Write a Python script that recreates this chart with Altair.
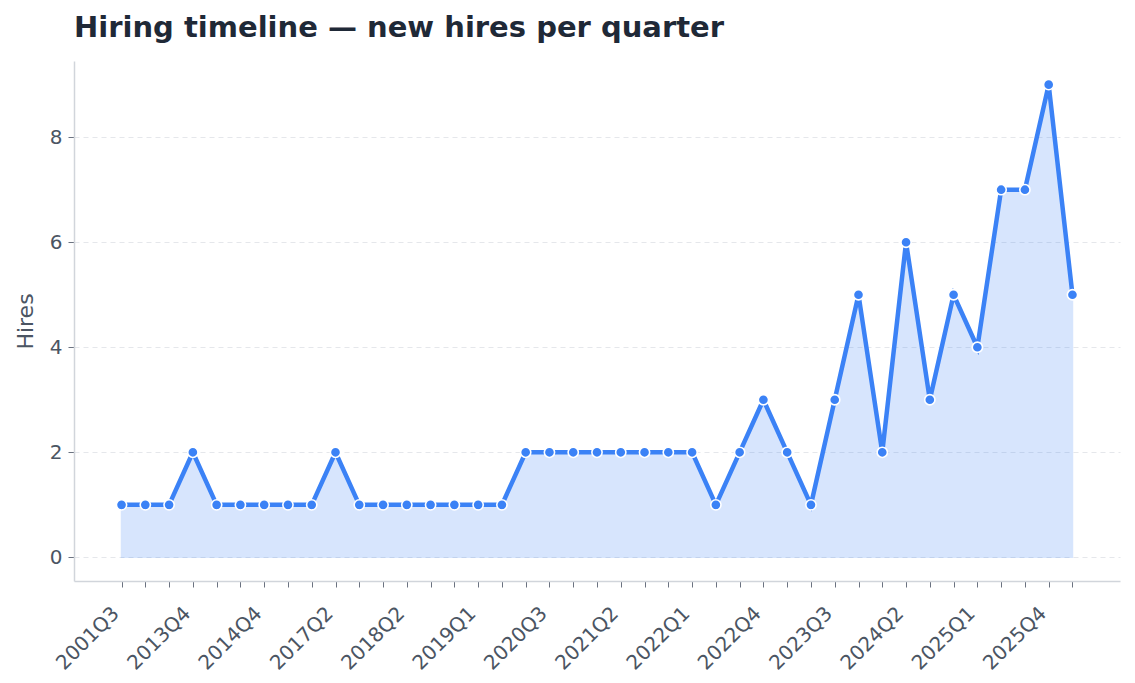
import pandas as pd
import altair as alt

quarters = [
    "2001Q3", "2008Q1", "2012Q2", "2013Q4", "2014Q1", "2014Q2", "2014Q4",
    "2015Q3", "2016Q4", "2017Q2", "2017Q3", "2017Q4", "2018Q2", "2018Q3",
    "2018Q4", "2019Q1", "2019Q3", "2020Q1", "2020Q3", "2020Q4", "2021Q1",
    "2021Q2", "2021Q3", "2021Q4", "2022Q1", "2022Q2", "2022Q3", "2022Q4",
    "2023Q1", "2023Q2", "2023Q3", "2023Q4", "2024Q1", "2024Q2", "2024Q3",
    "2024Q4", "2025Q1", "2025Q2", "2025Q3", "2025Q4", "2026Q1",
]
hires = [
    1, 1, 1, 2, 1, 1, 1, 1, 1, 2, 1, 1, 1, 1, 1, 1, 1, 2, 2, 2, 2,
    2, 2, 2, 2, 1, 2, 3, 2, 1, 3, 5, 2, 6, 3, 5, 4, 7, 7, 9, 5,
]
label_every = 3

df = pd.DataFrame({"idx": range(len(quarters)), "quarter": quarters, "hires": hires})

blue = "#3b82f6"
quarter_array = "[" + ",".join(f"'{q}'" for q in quarters) + "]"

# ordinal look on a numeric axis, so the outer padding can be two steps wide
x = alt.X(
    "idx:Q",
    scale=alt.Scale(domain=[-2, len(quarters) + 1], nice=False, zero=False),
    axis=alt.Axis(
        title=None,
        values=list(range(len(quarters))),
        labelAngle=-45,
        labelAlign="right",
        labelBaseline="top",
        labelExpr=f"datum.value % {label_every} == 0 ? {quarter_array}[datum.value] : ''",
        labelFontSize=20,
        labelColor="#4b5563",
        labelPadding=16,
        labelOffset=-13,
        labelFlush=False,
        labelOverlap=False,
        tickColor="#6b7280",
        tickSize=6,
        domainColor="#d1d5db",
        domainWidth=1.5,
        grid=False,
    ),
)
y = alt.Y(
    "hires:Q",
    scale=alt.Scale(domain=[-0.45, 9.45], nice=False),
    axis=alt.Axis(
        title="Hires",
        titleFontSize=22,
        titleFontWeight="normal",
        titleColor="#4b5563",
        titlePadding=12,
        values=[0, 2, 4, 6, 8],
        labelFontSize=20,
        labelColor="#4b5563",
        labelPadding=6,
        tickColor="#6b7280",
        tickSize=6,
        domainColor="#d1d5db",
        domainWidth=1.5,
        grid=True,
        gridColor="#e5e7eb",
        gridDash=[5, 4],
        gridWidth=1,
    ),
)

base = alt.Chart(df)
area = base.mark_area(
    color=blue, opacity=0.2, stroke=blue, strokeWidth=1.5
).encode(x=x, y=y, y2=alt.datum(0))
line = base.mark_line(color=blue, strokeWidth=4.5).encode(x=x, y=y)
points = base.mark_point(
    filled=True, color=blue, size=105, stroke="white", strokeWidth=1.6, opacity=1
).encode(x=x, y=y)

chart = (
    alt.layer(area, line, points)
    .properties(
        width=1046,
        height=520,
        padding={"left": 6, "top": 6, "right": 5, "bottom": 5},
        title=alt.TitleParams(
            "Hiring timeline — new hires per quarter",
            anchor="start",
            frame="group",
            fontSize=29,
            fontWeight="bold",
            color="#1f2937",
            font="DejaVu Sans",
            offset=18,
        ),
    )
    .configure(font="DejaVu Sans")
    .configure_view(stroke=None)
)

chart.save("out.html", embed_options={"renderer": "svg", "actions": False})
